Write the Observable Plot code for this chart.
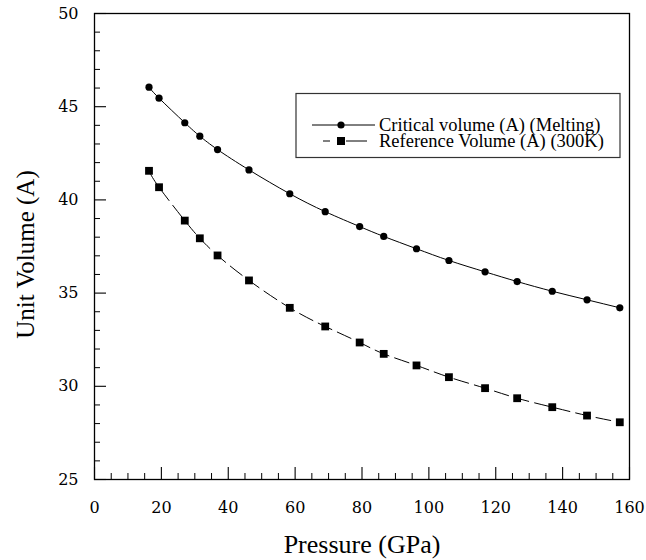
<!DOCTYPE html>
<html><head><meta charset="utf-8">
<script src="https://cdn.jsdelivr.net/npm/d3@7"></script>
<script src="https://cdn.jsdelivr.net/npm/@observablehq/plot@0.6"></script>
<style>
body{margin:0;background:#fff}
#chart{width:646px;height:560px}
#chart svg text{font-family:"DejaVu Serif",serif;}
#chart svg g.ttl text{font-family:"Liberation Serif",serif;}
#chart svg g.lg text{font-family:"Liberation Serif",serif;text-anchor:start;}
</style>
</head><body><div id="chart"></div>
<script>
// ---- data ----
const pressure = [16.3, 19.3, 27.0, 31.5, 36.8, 46.2, 58.4, 69.0, 79.3, 86.5, 96.3, 106.0, 116.8, 126.4, 136.9, 147.3, 157.1];
const criticalVolume = [46.05, 45.46, 44.14, 43.42, 42.70, 41.61, 40.33, 39.37, 38.57, 38.04, 37.38, 36.75, 36.14, 35.62, 35.10, 34.64, 34.21];
const referenceVolume = [41.56, 40.68, 38.89, 37.94, 37.02, 35.68, 34.21, 33.21, 32.35, 31.74, 31.12, 30.49, 29.90, 29.36, 28.88, 28.43, 28.07];
const seriesNames = ["Critical volume (A) (Melting)", "Reference Volume (A) (300K)"];
const xTicks = [0, 20, 40, 60, 80, 100, 120, 140, 160];
const yTicks = [25, 30, 35, 40, 45, 50];
const xMinorTicks = [5,10,15,25,30,35,45,50,55,65,70,75,85,90,95,105,110,115,125,130,135,145,150,155];
const yMinorTicks = [26,27,28,29,31,32,33,34,36,37,38,39,41,42,43,44,46,47,48,49];
const xLabel = "Pressure (GPa)";
const yLabel = "Unit Volume (A)";

const critical = pressure.map((p, i) => ({p, v: criticalVolume[i]}));
const reference = pressure.map((p, i) => ({p, v: referenceVolume[i]}));

const W = 646, H = 560, mL = 94, mR = 17, mT = 13, mB = 81;
const plotW = W - mL - mR, plotH = H - mT - mB;

const chart = Plot.plot({
  width: W, height: H,
  marginLeft: mL, marginRight: mR, marginTop: mT, marginBottom: mB,
  x: {domain: [0, 160]},
  y: {domain: [25, 50]},
  style: {background: "white", color: "black", fontFamily: "DejaVu Serif"},
  marks: [
    Plot.tickX(xMinorTicks, {x: d => d, insetTop: plotH - 6, stroke: "black", strokeWidth: 1}),
    Plot.tickX(xTicks, {x: d => d, insetTop: plotH - 12, stroke: "black", strokeWidth: 1.1}),
    Plot.tickY(yMinorTicks, {y: d => d, insetRight: plotW - 6, stroke: "black", strokeWidth: 1}),
    Plot.tickY(yTicks, {y: d => d, insetRight: plotW - 12, stroke: "black", strokeWidth: 1.1}),
    Plot.frame({stroke: "black", strokeWidth: 1.3}),
    Plot.axisX(xTicks, {tickSize: 0, tickPadding: 22, fontSize: 16, fontFamily: "DejaVu Serif", label: null}),
    Plot.axisY(yTicks, {tickSize: 0, tickPadding: 16, fontSize: 16, fontFamily: "DejaVu Serif", label: null}),
    Plot.line(critical, {x: "p", y: "v", curve: "natural", stroke: "black", strokeWidth: 1}),
    Plot.dot(critical, {x: "p", y: "v", r: 3.6, fill: "black", stroke: "none"}),
    Plot.line(reference, {x: "p", y: "v", curve: "natural", stroke: "black", strokeWidth: 1, strokeDasharray: "15,6"}),
    Plot.dot(reference, {x: "p", y: "v", symbol: "square", r: 4.4, fill: "black", stroke: "none"}),
    Plot.text([xLabel], {className: "ttl", frameAnchor: "bottom", dy: 65, text: d => d, fontSize: 26, fontFamily: "Liberation Serif", lineAnchor: "middle", fill: "black"}),
    Plot.text([yLabel], {className: "ttl", frameAnchor: "left", dx: -69, dy: 8, rotate: -90, text: d => d, fontSize: 25, fontFamily: "Liberation Serif", lineAnchor: "middle", textAnchor: "middle", fill: "black"})
  ]
});

// ---- legend box (decoration) ----
const svg = d3.select(chart);
const lg = svg.append("g").attr("class", "lg").attr("font-family", "Liberation Serif")
  .attr("font-size", 18.5).attr("fill", "black").attr("text-anchor", "start");
lg.append("rect").attr("x", 296).attr("y", 93.5).attr("width", 324).attr("height", 64)
  .attr("fill", "white").attr("stroke", "#333").attr("stroke-width", 1.2);
// row 1
lg.append("line").attr("x1", 312).attr("x2", 375).attr("y1", 125).attr("y2", 125).attr("stroke", "black");
lg.append("circle").attr("cx", 341).attr("cy", 125).attr("r", 3.6).attr("fill", "black");
lg.append("text").attr("x", 379).attr("y", 125).attr("dy", "0.33em").text(seriesNames[0]);
// row 2
lg.append("line").attr("x1", 323).attr("x2", 330).attr("y1", 141).attr("y2", 141).attr("stroke", "black");
lg.append("rect").attr("x", 337).attr("y", 137).attr("width", 8).attr("height", 8).attr("fill", "black");
lg.append("line").attr("x1", 346).attr("x2", 367).attr("y1", 141).attr("y2", 141).attr("stroke", "black");
lg.append("text").attr("x", 379).attr("y", 141).attr("dy", "0.33em").text(seriesNames[1]);

document.getElementById("chart").appendChild(chart);
</script>
</body></html>
